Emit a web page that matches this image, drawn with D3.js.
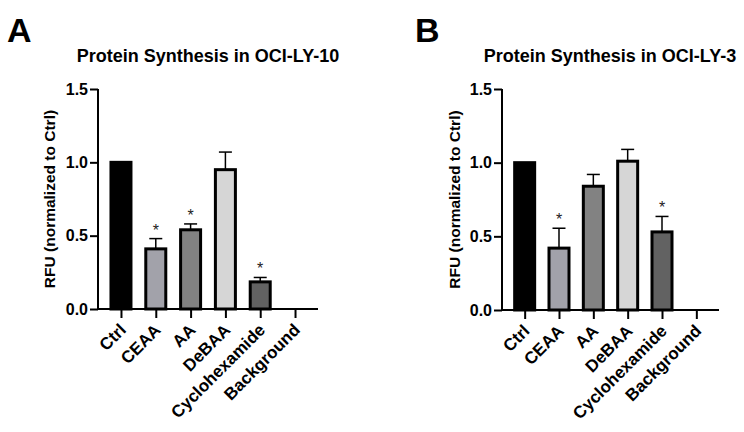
<!DOCTYPE html>
<html><head><meta charset="utf-8">
<script src="https://cdn.jsdelivr.net/npm/d3@7/dist/d3.min.js"></script>
<style>body{margin:0;background:#fff}svg{display:block}text{font-family:"Liberation Sans",Arial,sans-serif}</style>
</head><body>
<script>
const categories = ["Ctrl","CEAA","AA","DeBAA","Cyclohexamide","Background"];
const yTicks = [0, 0.5, 1.0, 1.5];
const titleA = "Protein Synthesis in OCI-LY-10";
const titleB = "Protein Synthesis in OCI-LY-3";
const meansA = [1.0, 0.41, 0.54, 0.95, 0.185, 0];
const errA   = [0.0, 0.07, 0.04, 0.12, 0.03, 0];
const starsA = [false, true, true, false, true, false];
const meansB = [1.0, 0.42, 0.84, 1.01, 0.53, 0];
const errB   = [0.0, 0.135, 0.08, 0.08, 0.105, 0];
const starsB = [false, true, false, false, true, false];
const yLabel = "RFU (normalized to Ctrl)";

const fills = ["#000000","#a2a2aa","#828282","#d6d6d6","#626262","#ffffff"];

const svg = d3.select("body").append("svg").attr("width",744).attr("height",432);

function panel(opt){
  const g = svg.append("g");
  const y = d3.scaleLinear().domain([0,1.5]).range([opt.y0, 89]);
  const x = d3.scalePoint().domain(categories).range([opt.x0, opt.x1]).padding(0.66);
  const bw = 20;
  g.append("text").attr("x",opt.lx).attr("y",42).attr("font-size",34).attr("font-weight","bold").text(opt.letter);
  g.append("text").attr("x",opt.tx).attr("y",62).attr("text-anchor","middle").attr("font-size",18).attr("font-weight","bold").text(opt.title);
  const data = categories.map((c,i)=>({c, m:opt.means[i], e:opt.err[i], s:opt.stars[i], f:fills[i]}));
  const bars = data.filter(d=>d.m>0);
  g.selectAll(".eb").data(bars.filter(d=>d.e>0)).join("line")
    .attr("x1",d=>x(d.c)).attr("x2",d=>x(d.c)).attr("y1",d=>y(d.m)).attr("y2",d=>y(d.m+d.e))
    .attr("stroke","#000").attr("stroke-width",1.5);
  g.selectAll(".cap").data(bars.filter(d=>d.e>0)).join("line")
    .attr("x1",d=>x(d.c)-6.5).attr("x2",d=>x(d.c)+6.5).attr("y1",d=>y(d.m+d.e)).attr("y2",d=>y(d.m+d.e))
    .attr("stroke","#000").attr("stroke-width",1.5);
  g.selectAll(".bar").data(bars).join("rect")
    .attr("x",d=>x(d.c)-bw/2).attr("width",bw)
    .attr("y",d=>y(d.m)).attr("height",d=>y(0)-y(d.m))
    .attr("fill",d=>d.f).attr("stroke","#000").attr("stroke-width",3);
  g.selectAll(".star").data(bars.filter(d=>d.s)).join("text")
    .attr("x",d=>x(d.c)).attr("y",d=>y(d.m+d.e)-3).attr("text-anchor","middle")
    .attr("font-size",16).attr("fill","#222").text("*");
  const ya = g.append("g").attr("transform",`translate(${opt.x0},0)`)
    .call(d3.axisLeft(y).tickValues(yTicks).tickFormat(d3.format(".1f")).tickSize(8).tickPadding(2));
  ya.select(".domain").attr("stroke-width",2).attr("d",`M0,${y(1.5)}V${y(0)}`);
  ya.selectAll(".tick line").attr("stroke-width",2);
  ya.selectAll(".tick text").attr("font-size",16).attr("font-weight","bold").attr("fill","#000")
    .attr("font-family","Liberation Sans, Arial, sans-serif");
  const xa = g.append("g").attr("transform",`translate(0,${y(0)})`)
    .call(d3.axisBottom(x).tickSize(9).tickFormat(""));
  xa.select(".domain").attr("stroke-width",2).attr("d",`M${opt.x0},0H${opt.x1}`);
  xa.selectAll(".tick line").attr("stroke-width",2);
  g.selectAll(".xl").data(categories).join("text")
    .attr("transform",d=>`translate(${x(d)+6},${y(0)+22}) rotate(-45)`)
    .attr("text-anchor","end").attr("font-size",17).attr("font-weight","bold").text(d=>d);
  g.append("text").attr("transform",`translate(${opt.ylx},${(y(0)+y(1.5))/2}) rotate(-90)`)
    .attr("text-anchor","middle").attr("font-size",15.5).attr("font-weight","bold").text(yLabel);
}

panel({letter:"A", lx:7, title:titleA, tx:208, x0:98, x1:318, y0:309, means:meansA, err:errA, stars:starsA, ylx:55});
panel({letter:"B", lx:415, title:titleB, tx:610, x0:502, x1:719, y0:310, means:meansB, err:errB, stars:starsB, ylx:460});
</script>
</body></html>
